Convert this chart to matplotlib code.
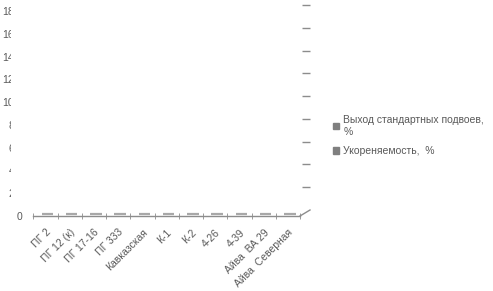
import matplotlib
matplotlib.use("Agg")
import matplotlib.pyplot as plt
import matplotlib.transforms as mtransforms
from matplotlib.patches import Patch, Rectangle
from matplotlib.lines import Line2D
import numpy as np

# data
categories = ["ПГ 2", "ПГ 12 (к)", "ПГ 17-16", "ПГ 333", "Кавказская", "К-1", "К-2",
              "4-26", "4-39", "Айва  ВА 29", "Айва  Северная"]
vyhod = [0, 0, 0, 0, 0, 0, 0, 0, 0, 0, 0]        # Выход стандартных подвоев, %
ukoren = [0, 0, 0, 0, 0, 0, 0, 0, 0, 0, 0]       # Укореняемость, %
series_names = ["Выход стандартных подвоев,\n%", "Укореняемость,  %"]
yticks = [0, 2, 4, 6, 8, 10, 12, 14, 16, 18]

W, H = 493, 291
txt = "#595959"
axc = "#8c8c8c"
plt.rcParams['font.family'] = ['Liberation Sans', 'DejaVu Sans']

fig = plt.figure(figsize=(W / 100, H / 100), dpi=100)

# front plane (labels, axis line)
ax = fig.add_axes([33.3 / W, (H - 216) / H, (300 - 33.3) / W, 205 / H])
# back wall (only the right-hand grid ends are visible)
ax2 = fig.add_axes([43.3 / W, (H - 210) / H, (310 - 43.3) / W, 205 / H])

x = np.arange(len(categories))
w = 0.24
# zero-height 3D columns sit half-way in depth -> small pixel offset
mid = mtransforms.offset_copy(ax.transData, fig=fig, x=2, y=2.5, units='dots')
b1 = ax.bar(x - w / 2, vyhod, w, color="#8a8a8a", edgecolor="#a8a8a8", linewidth=1.6)
b2 = ax.bar(x + w / 2, ukoren, w, color="#8a8a8a", edgecolor="#a8a8a8", linewidth=1.6)
for p in list(b1) + list(b2):
    p.set_transform(mid)

ax.set_xlim(-0.5, len(categories) - 0.5)
ax.set_ylim(0, 18)
for s in ["left", "right", "top"]:
    ax.spines[s].set_visible(False)
ax.spines["bottom"].set_color(axc)
ax.spines["bottom"].set_linewidth(1)
ax.patch.set_visible(False)

ax.set_xticks(x)
ax.set_xticklabels(categories, rotation=45, ha="right", va="top",
                   rotation_mode="anchor", fontsize=7.5, color=txt)
ax.tick_params(axis="x", which="major", length=0, pad=8)
ax.set_xticks(np.arange(len(categories) + 1) - 0.5, minor=True)
ax.tick_params(axis="x", which="minor", length=4, direction="inout", color=axc)

ax.set_yticks(yticks)
ax.set_yticklabels([str(v) for v in yticks], fontsize=7.5, color=txt)
ax.tick_params(axis="y", length=0, pad=13.8)
ax.yaxis.get_major_ticks()[0].set_pad(8)

ax2.set_ylim(0, 18)
ax2.set_xlim(0, 1)
ax2.patch.set_visible(False)
for s in ax2.spines.values():
    s.set_visible(False)
ax2.set_xticks([])
ax2.yaxis.tick_right()
ax2.set_yticks(yticks[1:])
ax2.tick_params(axis="y", direction="in", length=5.8, color=axc, width=1, labelright=False)

# floor edge
fig.add_artist(Line2D([300 / W, 310 / W], [(H - 216) / H, (H - 210) / H],
                      transform=fig.transFigure, color=axc, linewidth=1))
# the value labels above 0 are cut off in the original
fig.add_artist(Rectangle((11 / W, (H - 205) / H), 20 / W, 205 / H,
                         transform=fig.transFigure, facecolor="white",
                         edgecolor="none", zorder=10))

handles = [Patch(facecolor="#7f7f7f", edgecolor="#7f7f7f"),
           Patch(facecolor="#7f7f7f", edgecolor="#7f7f7f")]
fig.legend(handles, series_names, loc="upper left",
           bbox_to_anchor=(333 / W, 1 - 115 / H), frameon=False,
           fontsize=7.5, labelcolor=txt, handlelength=0.6, handleheight=0.6,
           handletextpad=0.4, labelspacing=0.9, borderpad=0, borderaxespad=0)

fig.savefig("out.png", dpi=100)
